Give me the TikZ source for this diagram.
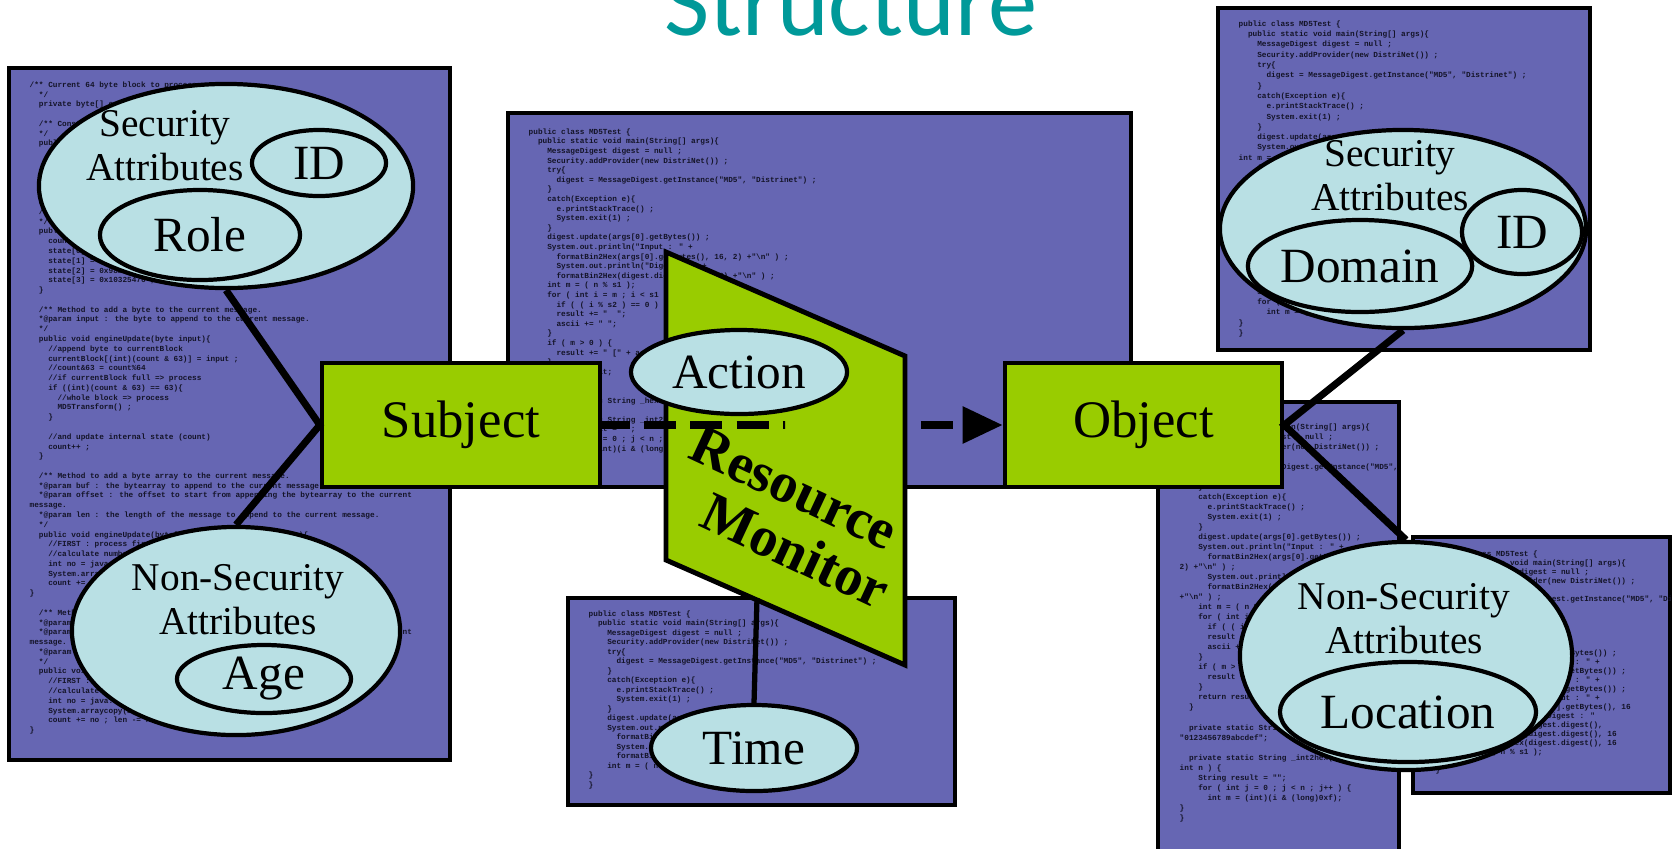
\documentclass[tikz,border=0pt]{standalone}
\usepackage{fontspec}
\setmainfont{Liberation Serif}
\newfontfamily\codefont{Liberation Mono}
\newfontfamily\titlefont{Carlito}
\usetikzlibrary{arrows.meta,shapes.geometric}
\definecolor{panelblue}{RGB}{102,102,179}
\definecolor{attrfill}{RGB}{185,224,228}
\definecolor{actorgreen}{RGB}{153,204,0}
\definecolor{titleteal}{RGB}{0,153,153}
\definecolor{codeink}{RGB}{20,20,40}

\begin{document}
\begin{tikzpicture}[x=0.01cm,y=-0.01cm,
  >={Triangle[length=11.4pt,width=10pt]},
  panel/.style={draw=black,line width=1.1pt,fill=panelblue},
  code/.style={anchor=north west,inner sep=0pt,align=left,text=codeink,
    font={\codefont\bfseries\fontsize{2.2}{#1}\selectfont\lineskiplimit=-5pt}},
  actor/.style={draw=black,line width=1.2pt,fill=actorgreen,inner sep=0pt,
    minimum height=1.24cm,font=\fontsize{15}{18}\selectfont},
  attr/.style={ellipse,draw=black,line width=1.2pt,fill=attrfill,inner sep=0pt,
    font=\fontsize{14}{16}\selectfont},
  group/.style={align=center,inner sep=0pt,font=\fontsize{11.2}{12.5}\selectfont},
  link/.style={line width=2pt,line join=miter},
  flow/.style={line width=2.3pt,dash pattern=on 9.1pt off 4pt,dash phase=1.1pt},
  monitor/.style={draw=black,line width=1.4pt,fill=actorgreen,line join=miter}]

  \path[use as bounding box,fill=white] (0,0) rectangle (1677,848);

  % heading, cut by the page edge
  \node[anchor=base,text=titleteal,font=\titlefont\fontsize{28}{32}\selectfont]
    (title) at (851,35) {Structure};

  % code listings in the background
  \draw[panel] (9,68) rectangle (450,760);
  \begin{scope}
    \clip (9,68) rectangle (450,760);
    \node[code=2.78pt] (codeL) at (29,81) {/** Current 64 byte block to process\\
~~*/\\
~~private byte[] currentBlock = new byte[64] ;\\
~\\
~~/** Constructor\\
~~*/\\
~~public MD5() \{\\
~~~~super("MD5") ;\\
~~~~engineReset() ;\\
~~\}\\
~\\
~~//reset the state\\
~~//of the digest\\
~~/** Reset method\\
~~*/\\
~~public void engineReset() \{\\
~~~~count = 0 ;\\
~~~~state[0] = 0x67452301 ;\\
~~~~state[1] = 0xefcdab89 ;\\
~~~~state[2] = 0x98badcfe ;\\
~~~~state[3] = 0x10325476 ;\\
~~\}\\
~\\
~~/** Method to add a byte to the current message.\\
~~*@param input : the byte to append to the current message.\\
~~*/\\
~~public void engineUpdate(byte input)\{\\
~~~~//append byte to currentBlock\\
~~~~currentBlock[(int)(count \& 63)] = input ;\\
~~~~//count\&63 = count\%64\\
~~~~//if currentBlock full => process\\
~~~~if ((int)(count \& 63) == 63)\{\\
~~~~~~//whole block => process\\
~~~~~~MD5Transform() ;\\
~~~~\}\\
~\\
~~~~//and update internal state (count)\\
~~~~count++ ;\\
~~\}\\
~\\
~~/** Method to add a byte array to the current message.\\
~~*@param buf : the bytearray to append to the current message.\\
~~*@param offset : the offset to start from appending the bytearray to the current\\
message.\\
~~*@param len : the length of the message to append to the current message.\\
~~*/\\
~~public void engineUpdate(byte[] buf, int offset, int len)\{\\
~~~~//FIRST : process first part of the current block\\
~~~~//calculate number of bytes to copy\\
~~~~int no = java.lang.Math.min(len, 64 - (int)(count \& 63)) ;\\
~~~~System.arraycopy(buf, offset, currentBlock, 0, no) ;\\
~~~~count += no ;\\
\}\\
~\\
~~/** Method to add a byte array to the current message.\\
~~*@param buf : the bytearray to append to the current message.\\
~~*@param offset : the offset to start from appending the bytearray to the current\\
message.\\
~~*@param len : the length of the message to append to the current message.\\
~~*/\\
~~public void engineUpdate(byte[] buf, int offset, int len)\{\\
~~~~//FIRST : process first part of the current block\\
~~~~//calculate number of bytes to copy\\
~~~~int no = java.lang.Math.min(len, 64 - (int)(count \& 63)) ;\\
~~~~System.arraycopy(buf, offset, currentBlock, 0, no) ;\\
~~~~count += no ; len -= no ;\\
\}};
  \end{scope}

  \draw[panel] (508,113) rectangle (1131,487);
  \begin{scope}
    \clip (508,113) rectangle (1131,487);
    \node[code=2.73pt] (codeC) at (528,128) {public class MD5Test \{\\
~~public static void main(String[] args)\{\\
~~~~MessageDigest digest = null ;\\
~~~~Security.addProvider(new DistriNet()) ;\\
~~~~try\{\\
~~~~~~digest = MessageDigest.getInstance("MD5", "Distrinet") ;\\
~~~~\}\\
~~~~catch(Exception e)\{\\
~~~~~~e.printStackTrace() ;\\
~~~~~~System.exit(1) ;\\
~~~~\}\\
~~~~digest.update(args[0].getBytes()) ;\\
~~~~System.out.println("Input : " +\\
~~~~~~formatBin2Hex(args[0].getBytes(), 16, 2) +"\textbackslash n" ) ;\\
~~~~~~System.out.println("Digest : " +\\
~~~~~~formatBin2Hex(digest.digest(), 16, 2) +"\textbackslash n" ) ;\\
~~~~int m = ( n \% s1 );\\
~~~~for ( int i = m ; i < s1 ; i++ )\{\\
~~~~~~if ( ( i \% s2 ) == 0 )\\
~~~~~~result += "~~";\\
~~~~~~ascii += " ";\\
~~~~\}\\
~~~~if ( m > 0 ) \{\\
~~~~~~result += " [" + ascii + "]";\\
~~~~\}\\
~~~~return result;\\
~~\}\\
~\\
~~private static String \_hexDigits = "0123456789abcdef";\\
~\\
~~private static String \_int2hex( long i, int n ) \{\\
~~~~String result = "";\\
~~~~for ( int j = 0 ; j < n ; j++ ) \{\\
~~~~~~int m = (int)(i \& (long)0xf);\\
\}\\
\}};
  \end{scope}

  \draw[panel] (568,598) rectangle (955,805);
  \begin{scope}
    \clip (568,598) rectangle (955,805);
    \node[code=2.7pt] (codeB) at (588,610) {public class MD5Test \{\\
~~public static void main(String[] args)\{\\
~~~~MessageDigest digest = null ;\\
~~~~Security.addProvider(new DistriNet()) ;\\
~~~~try\{\\
~~~~~~digest = MessageDigest.getInstance("MD5", "Distrinet") ;\\
~~~~\}\\
~~~~catch(Exception e)\{\\
~~~~~~e.printStackTrace() ;\\
~~~~~~System.exit(1) ;\\
~~~~\}\\
~~~~digest.update(args[0].getBytes()) ;\\
~~~~System.out.println("Input : " +\\
~~~~~~formatBin2Hex(args[0].getBytes(), 16, 2) +"\textbackslash n" ) ;\\
~~~~~~System.out.println("Digest : " +\\
~~~~~~formatBin2Hex(digest.digest(), 16, 2) +"\textbackslash n" ) ;\\
~~~~int m = ( n \% s1 );\\
\}\\
\}};
  \end{scope}

  \draw[panel] (1218,8) rectangle (1590,350);
  \begin{scope}
    \clip (1218,8) rectangle (1590,350);
    \node[code=2.93pt] (codeT) at (1238,20) {public class MD5Test \{\\
~~public static void main(String[] args)\{\\
~~~~MessageDigest digest = null ;\\
~~~~Security.addProvider(new DistriNet()) ;\\
~~~~try\{\\
~~~~~~digest = MessageDigest.getInstance("MD5", "Distrinet") ;\\
~~~~\}\\
~~~~catch(Exception e)\{\\
~~~~~~e.printStackTrace() ;\\
~~~~~~System.exit(1) ;\\
~~~~\}\\
~~~~digest.update(args[0].getBytes()) ;\\
~~~~System.out.println("Input : " +\\
int m = ( n \% s1 );\\
~~~~for ( int i = m ; i < s1 ; i++ )\{\\
~~~~~~if ( ( i \% s2 ) == 0 )\\
~~~~~~result += "~~";\\
~~~~~~ascii += " ";\\
~~~~\}\\
~~~~if ( m > 0 ) \{\\
~~~~~~result += " [" + ascii + "]";\\
~~~~\}\\
~~~~return result;\\
~~\}\\
~\\
~~private static String \_int2hex( long i, int n ) \{\\
~~~~String result = "";\\
~~~~for ( int j = 0 ; j < n ; j++ ) \{\\
~~~~~~int m = (int)(i \& (long)0xf);\\
\}\\
\}};
  \end{scope}

  \draw[panel] (1158,402) rectangle (1399,860);
  \begin{scope}
    \clip (1158,402) rectangle (1399,860);
    \node[code=2.85pt] (codeR) at (1179,413) {public class MD5Test \{\\
~~public static void main(String[] args)\{\\
~~~~MessageDigest digest = null ;\\
~~~~Security.addProvider(new DistriNet()) ;\\
~~~~try\{\\
~~~~~~digest = MessageDigest.getInstance("MD5",\\
~~~~~~"Distrinet") ;\\
~~~~\}\\
~~~~catch(Exception e)\{\\
~~~~~~e.printStackTrace() ;\\
~~~~~~System.exit(1) ;\\
~~~~\}\\
~~~~digest.update(args[0].getBytes()) ;\\
~~~~System.out.println("Input : " +\\
~~~~~~formatBin2Hex(args[0].getBytes(), 16,\\
2) +"\textbackslash n" ) ;\\
~~~~~~System.out.println("Digest : " +\\
~~~~~~formatBin2Hex(digest.digest(), 16, 2)\\
+"\textbackslash n" ) ;\\
~~~~int m = ( n \% s1 );\\
~~~~for ( int i = m ; i < s1 ; i++ )\{\\
~~~~~~if ( ( i \% s2 ) == 0 )\\
~~~~~~result += "~~";\\
~~~~~~ascii += " ";\\
~~~~\}\\
~~~~if ( m > 0 ) \{\\
~~~~~~result += " [" + ascii + "]";\\
~~~~\}\\
~~~~return result;\\
~~\}\\
~\\
~~private static String \_hexDigits =\\
"0123456789abcdef";\\
~\\
~~private static String \_int2hex( long i,\\
int n ) \{\\
~~~~String result = "";\\
~~~~for ( int j = 0 ; j < n ; j++ ) \{\\
~~~~~~int m = (int)(i \& (long)0xf);\\
\}\\
\}};
  \end{scope}

  \draw[panel] (1413,537) rectangle (1670,793);
  \begin{scope}
    \clip (1413,537) rectangle (1670,793);
    \node[code=2.56pt] (codeS) at (1435,550) {public class MD5Test \{\\
~~public static void main(String[] args)\{\\
~~~~MessageDigest digest = null ;\\
~~~~Security.addProvider(new DistriNet()) ;\\
~~~~try\{\\
~~~~~~digest = MessageDigest.getInstance("MD5", "Distrinet") ;\\
~~~~\}\\
~~~~catch(Exception e)\{\\
~~~~~~e.printStackTrace() ;\\
~~~~~~System.exit(1) ;\\
~~~~\}\\
~~~~digest.update(args[0].getBytes()) ;\\
~~~~System.out.println("Input : " +\\
~~~~~~formatBin2Hex(args[0].getBytes()) ;\\
~~~~System.out.println("Input : " +\\
~~~~~~formatBin2Hex(args[0].getBytes()) ;\\
~~~~System.out.println("Input : " +\\
~~~~~~formatBin2Hex(args[0].getBytes(), 16\\
~~~~System.out.println("Digest : "\\
~~~~~~formatBin2Hex(digest.digest(),\\
~~~~~~formatBin2Hex(digest.digest(), 16\\
~~~~~~formatBin2Hex(digest.digest(), 16\\
~~~~int m = ( n \% s1 );\\
~~\}\\
\}};
  \end{scope}

  % subject and object
  \node[actor,minimum width=2.78cm] (subj) at (461,425) {Subject};
  \node[actor,minimum width=2.77cm] (obj) at (1143.5,425) {Object};

  % access goes through the monitor
  \draw[flow,->] (subj.east) -- (obj.west);
  \draw[monitor] (666,252) -- (905,356) -- (905,665) -- (666,560) -- cycle;
  \begin{scope}
    \clip (600,300) rectangle (785,500);
    \draw[flow,->] (subj.east) -- (obj.west);
  \end{scope}
  \node[rotate=-25,align=center,inner sep=0pt,
    font=\bfseries\fontsize{16}{16.2}\selectfont]
    (monlbl) at (782,514) {Resource\\\hspace*{1em}Monitor};

  \coordinate (mtime) at (757,598);
  \node[attr,minimum width=2.06cm,minimum height=0.86cm] (time) at (754,748) {Time};
  \draw[link,line width=1.5pt] (mtime) -- (time.north);
  \node[attr,minimum width=2.16cm,minimum height=0.84cm] (action) at (739,372) {Action};

  % subject attributes
  \node[attr,minimum width=3.74cm,minimum height=2.04cm] (secL) at (226,186) {};
  \node[group] (secLtxt) at (165,146) {Security\\Attributes};
  \node[attr,minimum width=1.34cm,minimum height=0.66cm] (idL) at (319,163) {ID};
  \node[attr,minimum width=2.0cm,minimum height=0.9cm] (roleL) at (200,235) {Role};
  \node[attr,minimum width=3.28cm,minimum height=2.08cm] (nsL) at (236,631) {};
  \node[group] (nsLtxt) at (238,600) {Non-Security\\Attributes};
  \node[attr,minimum width=1.74cm,minimum height=0.68cm] (ageL) at (264,679) {Age};
  \draw[link] (secL.south) -- (subj.west) -- (nsL.north);

  % object attributes
  \node[attr,minimum width=3.66cm,minimum height=1.98cm] (secR) at (1403,229) {};
  \node[group] (secRtxt) at (1390,176) {Security\\Attributes};
  \node[attr,minimum width=2.24cm,minimum height=0.92cm] (domR) at (1360,266) {Domain};
  \node[attr,minimum width=1.2cm,minimum height=0.84cm] (idR) at (1522,232) {ID};
  \node[attr,minimum width=3.32cm,minimum height=2.28cm] (nsR) at (1406,656) {};
  \node[group] (nsRtxt) at (1404,619) {Non-Security\\Attributes};
  \node[attr,minimum width=2.56cm,minimum height=1.0cm] (locR) at (1408,712) {Location};
  \draw[link] (secR.south) -- (obj.east) -- (nsR.north);
\end{tikzpicture}
\end{document}
